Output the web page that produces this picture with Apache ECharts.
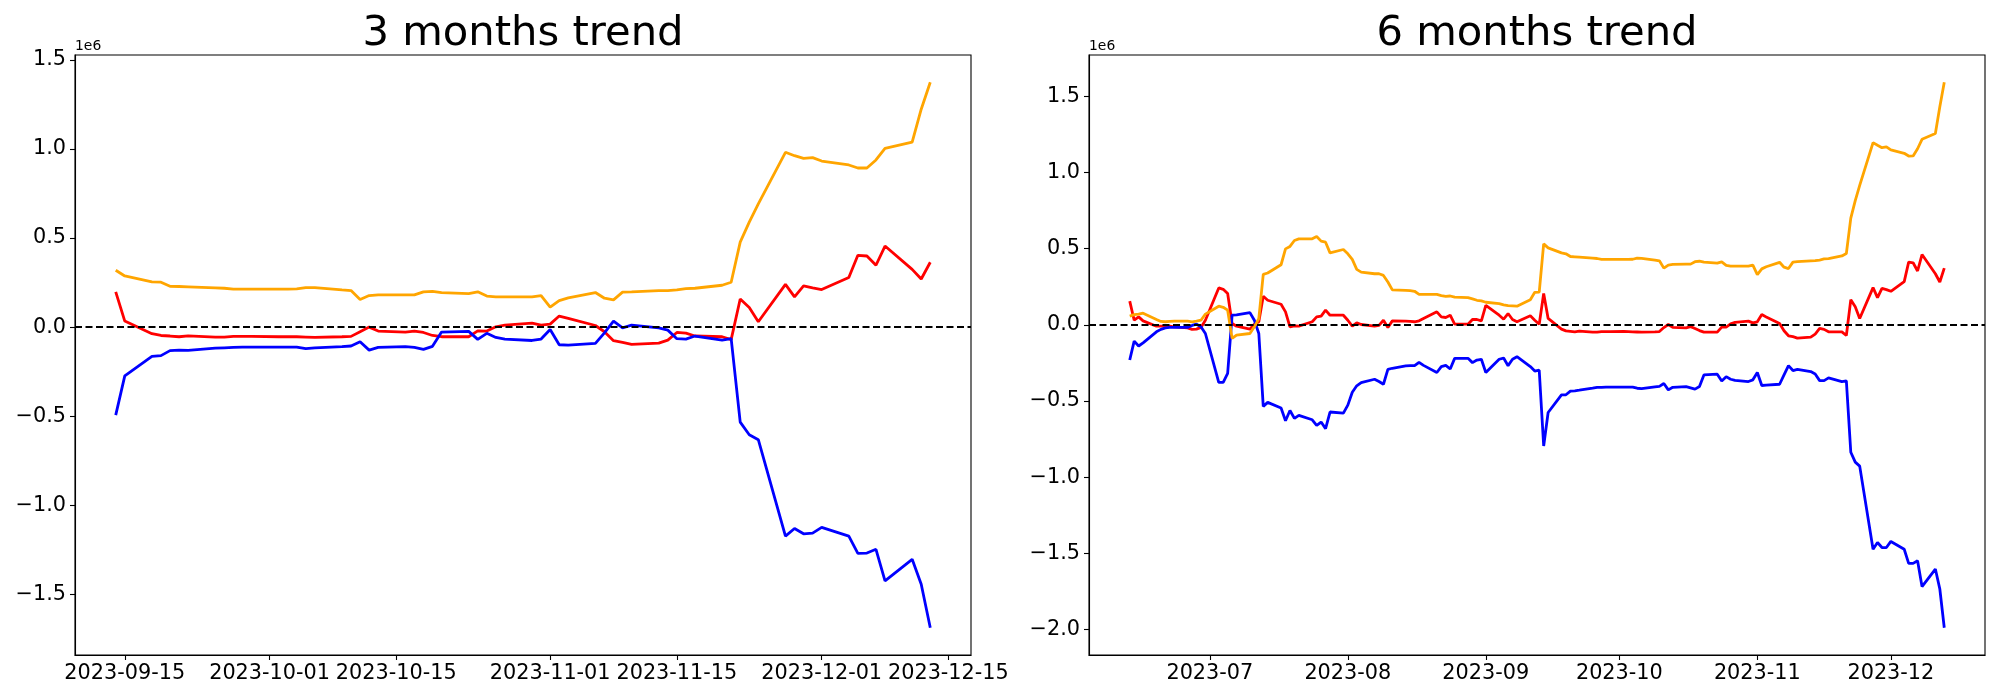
<!DOCTYPE html>
<html><head><meta charset="utf-8">
<script src="https://cdn.jsdelivr.net/npm/echarts@6/dist/echarts.min.js"></script>
<style>html,body{margin:0;padding:0;background:#fff}#c{width:2000px;height:700px}</style>
</head><body><div id="c"></div>
<script>
// ---------- 3 months panel ----------
const dates3m = [
 '2023-09-14','2023-09-15','2023-09-18','2023-09-19','2023-09-20','2023-09-21','2023-09-22','2023-09-25','2023-09-26','2023-09-27','2023-09-28','2023-09-29',
 '2023-10-02','2023-10-03','2023-10-04','2023-10-05','2023-10-06','2023-10-09','2023-10-10','2023-10-11','2023-10-12','2023-10-13','2023-10-16','2023-10-17','2023-10-18','2023-10-19','2023-10-20','2023-10-23','2023-10-24','2023-10-25','2023-10-26','2023-10-27','2023-10-30','2023-10-31',
 '2023-11-01','2023-11-02','2023-11-03','2023-11-06','2023-11-07','2023-11-08','2023-11-09','2023-11-10','2023-11-13','2023-11-14','2023-11-15','2023-11-16','2023-11-17','2023-11-20','2023-11-21','2023-11-22','2023-11-23','2023-11-24','2023-11-27','2023-11-28','2023-11-29','2023-11-30',
 '2023-12-01','2023-12-04','2023-12-05','2023-12-06','2023-12-07','2023-12-08','2023-12-11','2023-12-12','2023-12-13'];
const orange3m = [
 0.319,0.287,0.254,0.252,0.229,0.228,0.226,0.220,0.218,0.213,0.213,0.213,
 0.213,0.213,0.215,0.222,0.222,0.209,0.205,0.155,0.177,0.181,0.181,0.181,0.198,0.201,0.194,0.188,0.198,0.174,0.170,0.170,0.170,0.177,
 0.112,0.149,0.164,0.194,0.162,0.153,0.196,0.198,0.205,0.205,0.209,0.216,0.218,0.235,0.252,0.477,0.589,0.692,0.981,0.962,0.947,0.951,
 0.932,0.910,0.893,0.893,0.938,1.003,1.038,1.223,1.374];
const red3m = [
 0.198,0.034,-0.037,-0.047,-0.050,-0.054,-0.049,-0.056,-0.056,-0.052,-0.052,-0.052,
 -0.054,-0.054,-0.054,-0.056,-0.058,-0.054,-0.052,-0.026,0.000,-0.022,-0.028,-0.022,-0.030,-0.047,-0.054,-0.054,-0.021,-0.022,0.002,0.011,0.022,0.011,
 0.017,0.062,0.049,0.009,-0.026,-0.076,-0.086,-0.097,-0.090,-0.073,-0.030,-0.034,-0.050,-0.054,-0.070,0.158,0.110,0.030,0.240,0.170,0.231,0.220,
 0.211,0.278,0.403,0.399,0.347,0.455,0.324,0.270,0.364];
const blue3m = [
 -0.494,-0.274,-0.164,-0.160,-0.132,-0.129,-0.130,-0.118,-0.116,-0.114,-0.112,-0.112,
 -0.112,-0.112,-0.112,-0.121,-0.117,-0.110,-0.106,-0.082,-0.129,-0.114,-0.110,-0.114,-0.125,-0.108,-0.028,-0.024,-0.069,-0.035,-0.058,-0.067,-0.075,-0.067,
 -0.013,-0.099,-0.101,-0.091,-0.032,0.034,-0.004,0.011,-0.004,-0.017,-0.065,-0.067,-0.050,-0.073,-0.065,-0.533,-0.604,-0.632,-1.173,-1.130,-1.160,-1.156,
 -1.124,-1.173,-1.270,-1.268,-1.247,-1.424,-1.303,-1.443,-1.687];
const xTicks3m = ['2023-09-15','2023-10-01','2023-10-15','2023-11-01','2023-11-15','2023-12-01','2023-12-15'];
const yTicks3m = [-1.5,-1.0,-0.5,0.0,0.5,1.0,1.5];

// ---------- 6 months panel ----------
const dates6m = [
 '2023-06-13','2023-06-14','2023-06-15','2023-06-16','2023-06-19','2023-06-20','2023-06-21','2023-06-22','2023-06-23','2023-06-26','2023-06-27','2023-06-28','2023-06-29','2023-06-30',
 '2023-07-03','2023-07-04','2023-07-05','2023-07-06','2023-07-07','2023-07-10','2023-07-11','2023-07-12','2023-07-13','2023-07-14','2023-07-17','2023-07-18','2023-07-19','2023-07-20','2023-07-21','2023-07-24','2023-07-25','2023-07-26','2023-07-27','2023-07-28','2023-07-31',
 '2023-08-01','2023-08-02','2023-08-03','2023-08-04','2023-08-07','2023-08-08','2023-08-09','2023-08-10','2023-08-11','2023-08-14','2023-08-15','2023-08-16','2023-08-17','2023-08-18','2023-08-21','2023-08-22','2023-08-23','2023-08-24','2023-08-25','2023-08-28','2023-08-29','2023-08-30','2023-08-31',
 '2023-09-01','2023-09-04','2023-09-05','2023-09-06','2023-09-07','2023-09-08','2023-09-11','2023-09-12','2023-09-13','2023-09-14','2023-09-15','2023-09-18','2023-09-19','2023-09-20','2023-09-21','2023-09-22','2023-09-25','2023-09-26','2023-09-27','2023-09-28','2023-09-29',
 '2023-10-02','2023-10-03','2023-10-04','2023-10-05','2023-10-06','2023-10-09','2023-10-10','2023-10-11','2023-10-12','2023-10-13','2023-10-16','2023-10-17','2023-10-18','2023-10-19','2023-10-20','2023-10-23','2023-10-24','2023-10-25','2023-10-26','2023-10-27','2023-10-30','2023-10-31',
 '2023-11-01','2023-11-02','2023-11-03','2023-11-06','2023-11-07','2023-11-08','2023-11-09','2023-11-10','2023-11-13','2023-11-14','2023-11-15','2023-11-16','2023-11-17','2023-11-20','2023-11-21','2023-11-22','2023-11-23','2023-11-24','2023-11-27','2023-11-28','2023-11-29','2023-11-30',
 '2023-12-01','2023-12-04','2023-12-05','2023-12-06','2023-12-07','2023-12-08','2023-12-11','2023-12-12','2023-12-13'];
const orange6m = [
 0.057,0.067,0.070,0.076,0.035,0.022,0.020,0.022,0.024,0.024,0.020,0.024,0.030,0.070,
 0.122,0.115,0.096,-0.089,-0.067,-0.057,-0.013,0.041,0.331,0.340,0.394,0.498,0.514,0.553,0.564,0.564,0.579,0.549,0.542,0.472,0.494,
 0.466,0.429,0.364,0.346,0.335,0.335,0.324,0.281,0.229,0.226,0.224,0.220,0.200,0.200,0.200,0.192,0.187,0.189,0.181,0.178,0.170,0.161,0.157,
 0.148,0.139,0.131,0.126,0.124,0.122,0.165,0.213,0.215,0.531,0.505,0.472,0.466,0.448,0.446,0.444,0.438,0.435,0.429,0.429,0.429,
 0.429,0.429,0.430,0.437,0.436,0.425,0.420,0.372,0.392,0.396,0.398,0.398,0.414,0.417,0.411,0.405,0.413,0.390,0.385,0.385,0.385,0.392,
 0.329,0.367,0.381,0.410,0.378,0.369,0.411,0.414,0.420,0.421,0.425,0.432,0.434,0.452,0.468,0.700,0.815,0.915,1.195,1.178,1.162,1.167,
 1.147,1.125,1.107,1.108,1.155,1.217,1.255,1.430,1.591];
const red6m = [
 0.155,0.030,0.052,0.026,-0.009,-0.009,-0.009,-0.009,-0.013,-0.020,-0.030,-0.028,-0.017,0.030,
 0.242,0.233,0.205,0.009,-0.009,-0.028,0.004,0.020,0.187,0.161,0.135,0.085,-0.013,-0.007,-0.009,0.020,0.052,0.057,0.096,0.063,0.063,
 0.030,-0.009,0.013,0.002,-0.009,-0.004,0.030,-0.017,0.026,0.024,0.022,0.020,0.026,0.041,0.085,0.052,0.048,0.063,0.004,0.004,0.035,0.035,0.026,
 0.128,0.063,0.037,0.074,0.035,0.020,0.059,0.030,0.004,0.205,0.042,-0.028,-0.040,-0.043,-0.046,-0.042,-0.048,-0.048,-0.045,-0.045,-0.045,
 -0.044,-0.045,-0.046,-0.047,-0.048,-0.046,-0.044,-0.018,0.002,-0.017,-0.020,-0.012,-0.024,-0.038,-0.048,-0.048,-0.015,-0.015,0.006,0.016,0.024,0.013,
 0.020,0.067,0.052,0.009,-0.039,-0.072,-0.078,-0.087,-0.081,-0.061,-0.024,-0.030,-0.046,-0.046,-0.070,0.165,0.118,0.041,0.244,0.178,0.239,0.231,
 0.220,0.283,0.411,0.407,0.353,0.461,0.335,0.281,0.372];
const blue6m = [
 -0.231,-0.107,-0.139,-0.118,-0.046,-0.030,-0.020,-0.017,-0.017,-0.017,-0.004,0.004,-0.013,-0.057,
 -0.377,-0.377,-0.318,0.063,0.065,0.080,0.030,-0.057,-0.535,-0.509,-0.546,-0.629,-0.562,-0.614,-0.594,-0.623,-0.660,-0.638,-0.681,-0.572,-0.579,
 -0.527,-0.442,-0.400,-0.379,-0.357,-0.372,-0.390,-0.292,-0.285,-0.270,-0.268,-0.268,-0.246,-0.266,-0.313,-0.274,-0.266,-0.290,-0.220,-0.220,-0.248,-0.231,-0.226,
 -0.313,-0.226,-0.218,-0.268,-0.226,-0.209,-0.274,-0.303,-0.298,-0.795,-0.575,-0.459,-0.459,-0.435,-0.433,-0.429,-0.416,-0.411,-0.411,-0.409,-0.409,
 -0.409,-0.409,-0.409,-0.416,-0.418,-0.407,-0.404,-0.385,-0.427,-0.410,-0.406,-0.414,-0.422,-0.405,-0.329,-0.324,-0.368,-0.340,-0.357,-0.364,-0.372,-0.361,
 -0.313,-0.398,-0.396,-0.390,-0.329,-0.268,-0.300,-0.292,-0.307,-0.322,-0.366,-0.366,-0.348,-0.372,-0.368,-0.836,-0.901,-0.927,-1.472,-1.428,-1.461,-1.461,
 -1.421,-1.472,-1.565,-1.565,-1.548,-1.717,-1.602,-1.733,-1.987];
const xTicks6m = ['2023-07-01','2023-08-01','2023-09-01','2023-10-01','2023-11-01','2023-12-01'];
const yTicks6m = [-2.0,-1.5,-1.0,-0.5,0.0,0.5,1.0,1.5];

const titles = ['3 months trend','6 months trend'];
const offsetLabel = '1e6';
const colors = {orange:'#FFA500', red:'#FF0000', blue:'#0000FF'};

// ---------- build ----------
const ts = s => Date.parse(s + 'T00:00:00Z');
const pad2 = n => (n < 10 ? '0' : '') + n;
const fmtDay = v => { const d = new Date(v); return d.getUTCFullYear() + '-' + pad2(d.getUTCMonth()+1) + '-' + pad2(d.getUTCDate()); };
const fmtMonth = v => { const d = new Date(v); return d.getUTCFullYear() + '-' + pad2(d.getUTCMonth()+1); };
const fmtY = v => (v < 0 ? '\u2212' : '') + Math.abs(v).toFixed(1);
const FONT = 'DejaVu Sans';

const panels = [
  {dates: dates3m, o: orange3m, r: red3m, b: blue3m, xt: xTicks3m, xf: fmtDay, yt: yTicks3m, left: 75},
  {dates: dates6m, o: orange6m, r: red6m, b: blue6m, xt: xTicks6m, xf: fmtMonth, yt: yTicks6m, left: 1089}
];
const GW = 896, GT = 55, GH = 600;

const grid = [], xAxis = [], yAxis = [], series = [], graphic = [];
panels.forEach((p, i) => {
  const t0 = ts(p.dates[0]), t1 = ts(p.dates[p.dates.length-1]);
  const xm = (t1 - t0) * 0.05;
  const all = p.o.concat(p.r, p.b);
  const ymin = Math.min(...all), ymax = Math.max(...all);
  const ym = (ymax - ymin) * 0.05;
  grid.push({left: p.left, top: GT, width: GW, height: GH, show: true, borderColor: '#000', borderWidth: 1.1, backgroundColor: 'transparent'});
  xAxis.push({
    type: 'value', gridIndex: i, min: t0 - xm, max: t1 + xm, scale: true,
    axisLine: {show: true, onZero: false, lineStyle: {color: '#000', width: 1.1}},
    axisTick: {show: true, length: 5, inside: false, lineStyle: {color: '#000', width: 1.1}, customValues: p.xt.map(ts)},
    axisLabel: {show: true, customValues: p.xt.map(ts), formatter: p.xf, color: '#000', fontSize: 20.8, fontFamily: FONT, margin: 8, hideOverlap: false},
    splitLine: {show: false}
  });
  yAxis.push({
    type: 'value', gridIndex: i, min: ymin - ym, max: ymax + ym, scale: true,
    axisLine: {show: true, onZero: false, lineStyle: {color: '#000', width: 1.1}},
    axisTick: {show: true, length: 5, inside: false, lineStyle: {color: '#000', width: 1.1}, customValues: p.yt},
    axisLabel: {show: true, customValues: p.yt, formatter: fmtY, color: '#000', fontSize: 20.8, fontFamily: FONT, margin: 9, hideOverlap: false},
    splitLine: {show: false}
  });
  const mk = (vals, color, name, withZero) => {
    const s = {
      type: 'line', name: name, xAxisIndex: i, yAxisIndex: i,
      data: p.dates.map((d, k) => [ts(d), vals[k]]),
      showSymbol: false, symbol: 'none', smooth: false,
      lineStyle: {color: color, width: 2.8}, itemStyle: {color: color},
      animation: false, silent: true
    };
    if (withZero) {
      s.markLine = {
        silent: true, symbol: ['none','none'], animation: false,
        label: {show: false},
        lineStyle: {color: '#000', type: [7, 3.5], width: 2.2},
        data: [{yAxis: 0}]
      };
    }
    return s;
  };
  series.push(mk(p.r, colors.red, 'red', true));
  series.push(mk(p.b, colors.blue, 'blue', false));
  series.push(mk(p.o, colors.orange, 'orange', false));

  graphic.push({type: 'text', x: p.left + GW / 2, y: 34, style: {text: titles[i], fontSize: 41.7, fontFamily: FONT, fill: '#000', align: 'center', verticalAlign: 'middle', textAlign: 'center', textVerticalAlign: 'middle'}});
  graphic.push({type: 'text', x: p.left, y: 46.5, style: {text: offsetLabel, fontSize: 13.9, fontFamily: FONT, fill: '#000', align: 'left', verticalAlign: 'middle', textAlign: 'left', textVerticalAlign: 'middle'}});
});

const chart = echarts.init(document.getElementById('c'), null, {renderer: 'canvas'});
chart.setOption({
  backgroundColor: '#fff', animation: false,
  grid, xAxis, yAxis, series, graphic
});
</script>
</body></html>
